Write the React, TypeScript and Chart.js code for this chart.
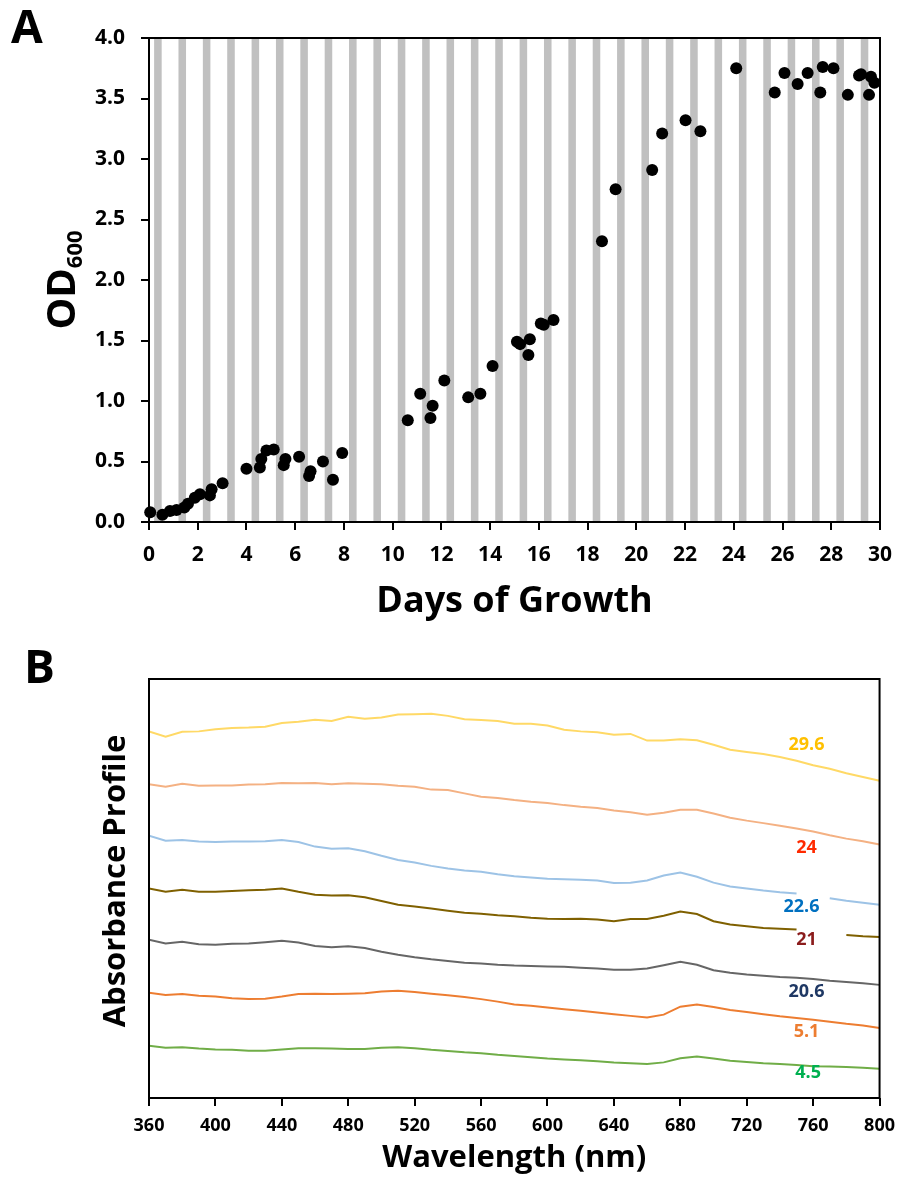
import React, { useEffect, useRef } from "react";
import { Chart, registerables } from "chart.js";

Chart.register(...registerables);

const FONT = '"Open Sans", "DejaVu Sans", sans-serif';

// ---- Panel A: growth curve (OD600 vs days) ----
const growthDays = [
  0.05, 0.55, 0.86, 1.13, 1.45, 1.6, 1.88, 2.09, 2.5, 2.57, 3.02,
  4.0, 4.55, 4.61, 4.82, 5.12, 5.53, 5.6, 6.16, 6.57, 6.63, 7.14, 7.55, 7.93,
  10.62, 11.13, 11.55, 11.64, 12.12, 13.1, 13.6, 14.1, 15.1, 15.23, 15.57, 15.63,
  16.08, 16.2, 16.6, 18.59, 19.15, 20.65, 21.06, 22.02, 22.63, 24.1,
  25.68, 26.08, 26.62, 27.03, 27.55, 27.65, 28.09, 28.68, 29.14, 29.22, 29.55, 29.63, 29.77,
];
const growthOD600 = [
  0.08, 0.06, 0.09, 0.1, 0.12, 0.15, 0.2, 0.23, 0.22, 0.27, 0.32,
  0.44, 0.45, 0.52, 0.59, 0.6, 0.47, 0.52, 0.54, 0.38, 0.42, 0.5, 0.35, 0.57,
  0.84, 1.06, 0.86, 0.96, 1.17, 1.03, 1.06, 1.29, 1.49, 1.47, 1.38, 1.51,
  1.64, 1.63, 1.67, 2.32, 2.75, 2.91, 3.21, 3.32, 3.23, 3.75,
  3.55, 3.71, 3.62, 3.71, 3.55, 3.76, 3.75, 3.53, 3.69, 3.7, 3.53, 3.68, 3.63,
];
// dark period of each daily light/dark cycle (fraction of the day)
const cycleDays = [
  0, 1, 2, 3, 4, 5, 6, 7, 8, 9, 10, 11, 12, 13, 14,
  15, 16, 17, 18, 19, 20, 21, 22, 23, 24, 25, 26, 27, 28, 29,
];
const darkStart = 0.21;
const darkEnd = 0.52;

// ---- Panel B: absorbance spectra, offset per sampling day ----
const wavelengths = [
  360, 370, 380, 390, 400, 410, 420, 430, 440, 450, 460, 470, 480, 490, 500,
  510, 520, 530, 540, 550, 560, 570, 580, 590, 600, 610, 620, 630, 640, 650,
  660, 670, 680, 690, 700, 710, 720, 730, 740, 750, 760, 770, 780, 790, 800,
];
const spectrumDay29_6 = [
  87.5, 86.2, 87.4, 87.5, 88.0, 88.3, 88.4, 88.6, 89.5, 89.8, 90.3, 90.0, 91.0, 90.5, 90.8,
  91.5, 91.6, 91.7, 91.2, 90.4, 90.2, 90.0, 89.3, 89.3, 88.9, 87.9, 87.5, 87.3, 86.7, 86.9,
  85.3, 85.3, 85.6, 85.4, 84.3, 83.1, 82.6, 82.1, 81.4, 80.5, 79.4, 78.6, 77.5, 76.6, 75.7,
];
const spectrumDay24 = [
  74.9, 74.3, 75.0, 74.5, 74.6, 74.6, 74.8, 74.9, 75.2, 75.1, 75.2, 74.9, 75.1, 75.0, 74.9,
  74.5, 74.3, 73.6, 73.5, 72.7, 71.9, 71.6, 71.1, 70.7, 70.4, 69.9, 69.5, 69.2, 68.6, 68.2,
  67.6, 68.1, 68.8, 68.8, 67.9, 66.9, 66.2, 65.6, 65.0, 64.3, 63.6, 62.7, 61.9, 61.3, 60.5,
];
const spectrumDay22_6 = [
  62.6, 61.4, 61.6, 61.2, 61.1, 61.2, 61.2, 61.3, 61.6, 61.1, 60.0, 59.5, 59.6, 58.9, 57.8,
  56.8, 56.2, 55.4, 54.8, 54.3, 54.0, 53.4, 52.9, 52.6, 52.3, 52.2, 52.1, 51.9, 51.3, 51.4,
  51.9, 53.1, 53.8, 52.8, 51.4, 50.5, 50.0, 49.5, 49.1, 48.8, null, 47.7, 47.1, 46.6, 46.1,
];
const spectrumDay21 = [
  50.0, 49.2, 49.7, 49.2, 49.2, 49.4, 49.6, 49.7, 50.0, 49.2, 48.5, 48.3, 48.4, 47.9, 47.0,
  46.1, 45.7, 45.2, 44.7, 44.2, 44.0, 43.6, 43.4, 43.0, 42.8, 42.7, 42.8, 42.6, 42.2, 42.7,
  42.7, 43.5, 44.5, 43.9, 42.2, 41.4, 41.0, 40.6, 40.4, 40.2, null, null, 38.9, 38.6, 38.4,
];
const spectrumDay20_6 = [
  37.8, 36.9, 37.3, 36.7, 36.6, 36.8, 36.9, 37.2, 37.5, 37.1, 36.3, 36.0, 36.2, 35.8, 34.9,
  34.2, 33.6, 33.1, 32.7, 32.3, 32.1, 31.8, 31.6, 31.5, 31.4, 31.3, 31.1, 30.9, 30.6, 30.6,
  30.9, 31.7, 32.5, 31.8, 30.5, 29.9, 29.5, 29.2, 28.9, 28.7, 28.4, 28.0, 27.7, 27.4, 27.0,
];
const spectrumDay5_1 = [
  25.1, 24.6, 24.8, 24.4, 24.2, 23.8, 23.6, 23.7, 24.2, 24.8, 24.9, 24.8, 24.9, 25.0, 25.4,
  25.6, 25.3, 24.9, 24.5, 24.1, 23.6, 23.0, 22.3, 22.0, 21.6, 21.2, 20.8, 20.4, 20.0, 19.6,
  19.2, 19.9, 21.8, 22.3, 21.7, 21.0, 20.5, 20.0, 19.5, 19.1, 18.7, 18.2, 17.7, 17.3, 16.7,
];
const spectrumDay4_5 = [
  12.5, 12.0, 12.1, 11.8, 11.6, 11.5, 11.3, 11.3, 11.6, 11.9, 11.9, 11.8, 11.7, 11.7, 12.0,
  12.1, 11.9, 11.5, 11.2, 10.9, 10.7, 10.3, 10.0, 9.7, 9.4, 9.2, 9.0, 8.8, 8.5, 8.3,
  8.1, 8.5, 9.5, 9.9, 9.4, 8.9, 8.6, 8.3, 8.1, 7.9, 7.6, 7.5, 7.4, 7.2, 7.0,
];
const spectrumDayLabels = ["29.6", "24", "22.6", "21", "20.6", "5.1", "4.5"];
const spectrumSeries = [
  spectrumDay29_6, spectrumDay24, spectrumDay22_6, spectrumDay21,
  spectrumDay20_6, spectrumDay5_1, spectrumDay4_5,
];
const lineColors = ["#FFD966", "#F4B183", "#9DC3E6", "#7F6000", "#666666", "#ED7D31", "#70AD47"];
const labelColors = ["#FFC000", "#FF2A00", "#0070C0", "#8B1C1C", "#1F3864", "#ED7D31", "#00B050"];
// where each day label sits (wavelength, profile level)
const labelNm = [756, 756, 753, 756, 756, 756, 757];
const labelLevel = [84.3, 59.7, 45.6, 37.8, 25.4, 15.9, 6.0];

const bold = (size: number) => ({ family: FONT, size, weight: "bold" as const });

const framePlugin = {
  id: "frame",
  afterDatasetsDraw(chart: any) {
    const { ctx, chartArea } = chart;
    ctx.save();
    ctx.strokeStyle = "#000";
    ctx.lineWidth = 2;
    ctx.strokeRect(chartArea.left, chartArea.top, chartArea.right - chartArea.left, chartArea.bottom - chartArea.top);
    ctx.restore();
  },
};

function drawRotated(ctx: CanvasRenderingContext2D, parts: { text: string; size: number; dy: number }[], baseX: number, centerY: number) {
  ctx.save();
  ctx.translate(baseX, centerY);
  ctx.rotate(-Math.PI / 2);
  ctx.fillStyle = "#000";
  ctx.textAlign = "left";
  ctx.textBaseline = "alphabetic";
  const widths = parts.map((p) => {
    ctx.font = `bold ${p.size}px ${FONT}`;
    return ctx.measureText(p.text).width;
  });
  const total = widths.reduce((a, b) => a + b, 0);
  let x = -total / 2;
  parts.forEach((p, i) => {
    ctx.font = `bold ${p.size}px ${FONT}`;
    ctx.fillText(p.text, x, p.dy);
    x += widths[i];
  });
  ctx.restore();
}

function drawText(ctx: CanvasRenderingContext2D, text: string, size: number, x: number, y: number, align: CanvasTextAlign) {
  ctx.save();
  ctx.fillStyle = "#000";
  ctx.font = `bold ${size}px ${FONT}`;
  ctx.textAlign = align;
  ctx.textBaseline = "alphabetic";
  ctx.fillText(text, x, y);
  ctx.restore();
}

const darkPeriodsPlugin = {
  id: "darkPeriods",
  beforeDraw(chart: any) {
    const { ctx, chartArea, scales } = chart;
    const x = scales.x;
    ctx.save();
    ctx.fillStyle = "#C0C0C0";
    for (const d of cycleDays) {
      const x0 = x.getPixelForValue(d + darkStart);
      const x1 = x.getPixelForValue(d + darkEnd);
      ctx.fillRect(x0, chartArea.top, x1 - x0, chartArea.bottom - chartArea.top);
    }
    ctx.restore();
  },
};

const growthTextPlugin = {
  id: "growthText",
  afterDraw(chart: any) {
    const { ctx, chartArea } = chart;
    const cx = (chartArea.left + chartArea.right) / 2;
    const cy = (chartArea.top + chartArea.bottom) / 2;
    drawText(ctx, "A", 46, 11, 43, "left");
    drawText(ctx, "Days of Growth", 36, cx, 612, "center");
    drawRotated(ctx, [
      { text: "OD", size: 40, dy: 0 },
      { text: "600", size: 22, dy: 7 },
    ], 75, cy);
  },
};

const spectraTextPlugin = {
  id: "spectraText",
  afterDraw(chart: any) {
    const { ctx, scales } = chart;
    drawText(ctx, "B", 46, 24, 43, "left");
    drawText(ctx, "Wavelength (nm)", 31, (chart.chartArea.left + chart.chartArea.right) / 2, 527, "center");
    drawRotated(ctx, [{ text: "Absorbance Profile", size: 31, dy: 0 }], 125, 241);
    ctx.save();
    ctx.font = `bold 18px ${FONT}`;
    ctx.textAlign = "center";
    ctx.textBaseline = "middle";
    spectrumDayLabels.forEach((t, i) => {
      ctx.fillStyle = labelColors[i];
      ctx.fillText(t, scales.x.getPixelForValue(labelNm[i]), scales.y.getPixelForValue(labelLevel[i]));
    });
    ctx.restore();
  },
};

const tickGrid = { drawOnChartArea: false, drawTicks: true, tickLength: 8, color: "#000", lineWidth: 2 };

export default function App() {
  const growthRef = useRef<HTMLCanvasElement>(null);
  const spectraRef = useRef<HTMLCanvasElement>(null);

  useEffect(() => {
    const growth = new Chart(growthRef.current!, {
      type: "scatter",
      data: {
        datasets: [
          {
            data: growthDays.map((d, i) => ({ x: d, y: growthOD600[i] })),
            backgroundColor: "#000",
            borderWidth: 0,
            pointRadius: 6,
            clip: false as any,
          },
        ],
      },
      options: {
        animation: false,
        responsive: false,
        events: [],
        layout: { padding: { left: 0, top: 38, right: 22, bottom: 0 } },
        plugins: { legend: { display: false }, tooltip: { enabled: false } },
        scales: {
          x: {
            type: "linear",
            min: 0,
            max: 30,
            afterFit: (s: any) => { s.height = 118; },
            ticks: { stepSize: 2, color: "#000", font: bold(21), padding: 12, maxRotation: 0, autoSkip: false },
            grid: tickGrid,
            border: { display: false },
          },
          y: {
            min: 0,
            max: 4,
            afterFit: (s: any) => { s.width = 149; },
            ticks: { stepSize: 0.5, color: "#000", font: bold(21), padding: 16, callback: (v: any) => Number(v).toFixed(1) },
            grid: tickGrid,
            border: { display: false },
          },
        },
      },
      plugins: [darkPeriodsPlugin, framePlugin, growthTextPlugin],
    });

    const spectra = new Chart(spectraRef.current!, {
      type: "line",
      data: {
        datasets: spectrumSeries.map((s, k) => ({
          data: wavelengths.map((w, i) => ({ x: w, y: s[i] })),
          borderColor: lineColors[k],
          borderWidth: 2,
          pointRadius: 0,
          tension: 0,
          spanGaps: false,
          fill: false,
        })),
      },
      options: {
        animation: false,
        responsive: false,
        events: [],
        layout: { padding: { left: 0, top: 39, right: 22, bottom: 0 } },
        plugins: { legend: { display: false }, tooltip: { enabled: false } },
        scales: {
          x: {
            type: "linear",
            min: 360,
            max: 800,
            afterFit: (s: any) => { s.height = 82; },
            ticks: { stepSize: 40, color: "#000", font: bold(18), padding: 9, maxRotation: 0, autoSkip: false },
            grid: tickGrid,
            border: { display: false },
          },
          y: {
            min: 0,
            max: 100,
            afterFit: (s: any) => { s.width = 149; },
            ticks: { display: false },
            grid: { display: false },
            border: { display: false },
          },
        },
      },
      plugins: [framePlugin, spectraTextPlugin],
    });

    return () => {
      growth.destroy();
      spectra.destroy();
    };
  }, []);

  return (
    <div style={{ position: "absolute", left: 0, top: 0, width: 904, height: 1180, background: "#fff" }}>
      <canvas ref={growthRef} width={904} height={640} style={{ position: "absolute", left: 0, top: 0 }} />
      <canvas ref={spectraRef} width={904} height={540} style={{ position: "absolute", left: 0, top: 640 }} />
    </div>
  );
}
